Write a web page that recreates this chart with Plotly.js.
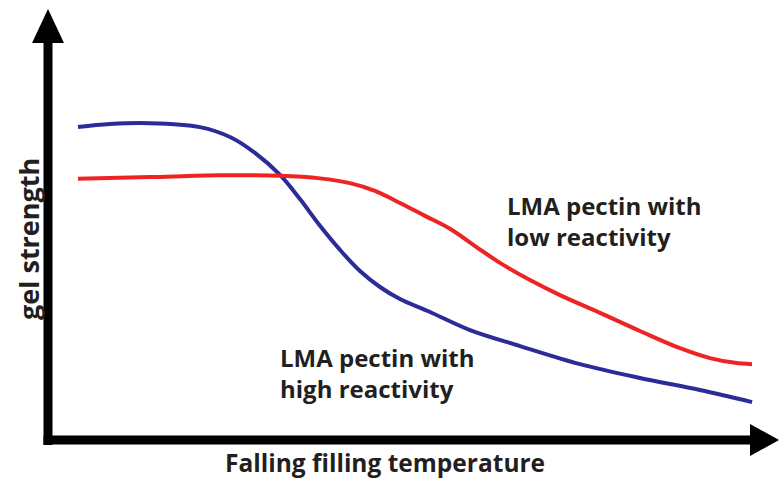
<!DOCTYPE html>
<html>
<head>
<meta charset="utf-8">
<script src="https://cdn.plot.ly/plotly-3.0.1.min.js"></script>
<style>html,body{margin:0;padding:0;background:#fff;}#chart{width:779px;height:480px;}</style>
</head>
<body>
<div id="chart"></div>
<script>
// Falling filling temperature (arbitrary units, 0-100)
const highX = [4.10, 8.48, 13.95, 20.79, 24.90, 28.32, 31.74, 34.47, 37.21, 39.95, 42.68, 45.42, 48.15, 52.26, 57.73, 64.57, 72.78, 80.98, 89.19, 96.31];
// gel strength, LMA pectin with high reactivity
const highY = [72.6, 73.3, 73.5, 72.6, 70.3, 66.6, 61.5, 55.9, 49.7, 44.1, 39.2, 35.5, 32.7, 29.7, 25.5, 21.8, 17.6, 14.4, 11.6, 8.8];
const lowX = [4.10, 13.95, 23.53, 31.74, 37.21, 41.31, 44.73, 48.15, 51.57, 54.99, 58.41, 61.83, 65.94, 70.04, 75.51, 80.98, 86.46, 90.56, 93.98, 96.31];
// gel strength, LMA pectin with low reactivity
const lowY = [60.6, 61.0, 61.4, 61.3, 60.7, 59.6, 57.8, 55.0, 52.0, 49.0, 45.0, 41.1, 37.1, 33.6, 29.5, 25.3, 21.3, 19.0, 17.9, 17.6];

const labelHigh = "LMA pectin with<br>high reactivity";
const labelLow = "LMA pectin with<br>low reactivity";
const xTitle = "Falling filling temperature";
const yTitle = "gel strength";

const textColor = "#231f20";
const fontFam = "Open Sans, Noto Sans, sans-serif";

const traces = [
  {x: highX, y: highY, mode: "lines", line: {color: "#2b2b9a", width: 4, shape: "spline", smoothing: 1}, hoverinfo: "skip", name: "high"},
  {x: lowX, y: lowY, mode: "lines", line: {color: "#ee2424", width: 4, shape: "spline", smoothing: 1}, hoverinfo: "skip", name: "low"}
];

const W = 779, H = 480, L = 48, R = 0, T = 9, B = 40;
const pw = W - L - R, ph = H - T - B;
const px2x = p => (p - L) / pw;          // pixel -> paper x
const py2y = p => (H - B - p) / ph;      // pixel -> paper y

const labelFont = {family: fontFam, size: 24, color: textColor, weight: "bold"};
const annotations = [
  {text: labelLow, x: px2x(505), y: py2y(221), xref: "paper", yref: "paper", xanchor: "left", yanchor: "middle", align: "left", showarrow: false, font: labelFont},
  {text: labelHigh, x: px2x(278), y: py2y(373), xref: "paper", yref: "paper", xanchor: "left", yanchor: "middle", align: "left", showarrow: false, font: labelFont},
  {text: xTitle, x: px2x(385), y: py2y(463), xref: "paper", yref: "paper", xanchor: "center", yanchor: "middle", showarrow: false,
   font: {family: fontFam, size: 24.5, color: textColor, weight: "bold"}},
  {text: yTitle, x: px2x(29), y: py2y(239), xref: "paper", yref: "paper", xanchor: "center", yanchor: "middle", textangle: -90, showarrow: false,
   font: {family: fontFam, size: 27, color: textColor, weight: "bold"}}
];

const layout = {
  width: W, height: H,
  margin: {l: L, r: R, t: T, b: B, pad: 0},
  paper_bgcolor: "#fff", plot_bgcolor: "#fff",
  showlegend: false,
  xaxis: {range: [0, 100], showgrid: false, zeroline: false, showticklabels: false, showline: false, ticks: "", fixedrange: true},
  yaxis: {range: [0, 100], showgrid: false, zeroline: false, showticklabels: false, showline: false, ticks: "", fixedrange: true},
  shapes: [
    {type: "line", xref: "paper", yref: "paper", x0: 0, x1: 0, y0: -5 / ph, y1: 1 - 30 / ph, line: {color: "#000", width: 9}},
    {type: "line", xref: "paper", yref: "paper", x0: -4.5 / pw, x1: 1 - 25 / pw, y0: 0, y1: 0, line: {color: "#000", width: 9}},
    {type: "path", xref: "paper", yref: "paper", xsizemode: "pixel", ysizemode: "pixel", xanchor: 0, yanchor: 1,
     path: "M -16 -34 L 16 -34 L 0 0 Z", fillcolor: "#000", line: {width: 0}},
    {type: "path", xref: "paper", yref: "paper", xsizemode: "pixel", ysizemode: "pixel", xanchor: 1, yanchor: 0,
     path: "M -29 -16 L -29 16 L 0 0 Z", fillcolor: "#000", line: {width: 0}}
  ],
  annotations: annotations
};

Plotly.newPlot("chart", traces, layout, {displayModeBar: false, staticPlot: true});
</script>
</body>
</html>
